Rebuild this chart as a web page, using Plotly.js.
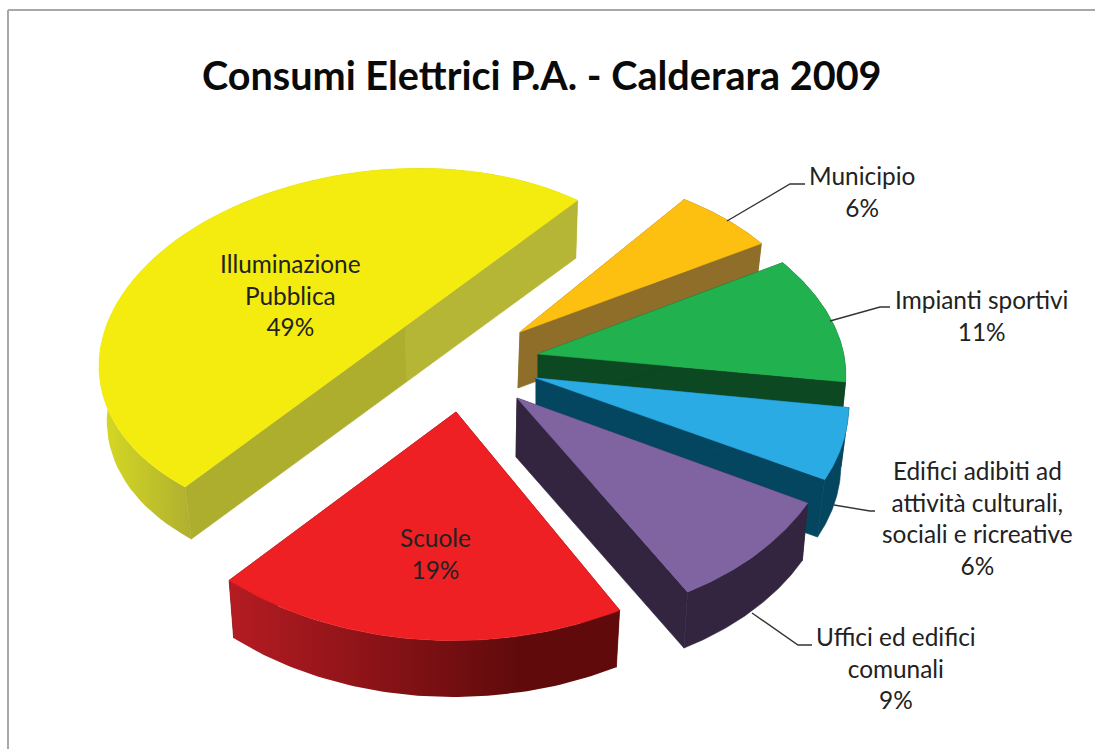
<!DOCTYPE html>
<html>
<head>
<meta charset="utf-8">
<script src="https://cdn.plot.ly/plotly-3.0.1.min.js"></script>
<style>html,body{margin:0;padding:0;background:#fff}#chart{width:1095px;height:749px}</style>
</head>
<body>
<div id="chart"></div>
<script>
// ---- data, counter-clockwise from the first slice ----
const categories = ["Illuminazione Pubblica", "Scuole", "Uffici ed edifici comunali",
  "Edifici adibiti ad attività culturali, sociali e ricreative", "Impianti sportivi", "Municipio"];
const values = [49, 19, 9, 6, 11, 6];
const labelLines = [
  ["Illuminazione", "Pubblica"], ["Scuole"], ["Uffici ed edifici", "comunali"],
  ["Edifici adibiti ad", "attività culturali,", "sociali e ricreative"], ["Impianti sportivi"], ["Municipio"]
];
const titleText = "Consumi Elettrici P.A. - Calderara 2009";

// ---- styling ----
const topColors   = ["#f4ec0e", "#ee2024", "#8064a2", "#2aabe4", "#22b14f", "#fdc010"];
const wallColors  = ["#b5b536", "#6a0c0c", "#332540", "#04465f", "#0c4822", "#8f6e2a"];
const wallColors2 = ["#aeae2e", "#6a0c0c", "#332540", "#04465f", "#0c4822", "#8f6e2a"];
const sideRamp    = [["#d4d822", "#b0b030"], ["#b41c22", "#600a0c"], null, null, null, null];
const rampRange   = [[105, 190], [230, 520], null, null, null, null];

// ---- projection of each exploded slice (Excel's 3D perspective) ----
const startAngle = 50;
// apex x, apex y, x=c*ux+s*vx, y=c*uy+s*vy
const frames = [
  [388, 347, 289,   5, -16, -178],
  [456, 412, 349, -19, -10, -223],
  [517, 398, 320, -40, -18, -222],
  [536, 378, 308, -55, -10, -203],
  [538, 354, 304, -48,  -7, -179],
  [520, 332, 290, -29, -13, -162]
];
// bottom face: shift x, shift y, shrink
const depths = [[2,55,.98],[0,61,.98],[-1,59,.985],[0,60,.975],[0,60,.98],[-2,56,.98]];
// extra swelling of the rim at mid-arc, caused by the perspective
const rimSwell = [0, .025, 0, 0, 0, 0];
// a near half-disc keeps a straight cut: pivot sits on the chord at this fraction
const chordPivot = [.44, null, null, null, null, null];
const paintOrder = [0, 5, 4, 3, 2, 1];

// ---- label placement ----
const labelPos = [[290,295],[435,553],[896,668],[977,518],[981,315],[862,191]];
const leaderX = [null, null, [752,798,812], [834,870,875], [830,880,890], [727,790,805]];
const leaderY = [null, null, [613,645,645], [505,511,511], [321,307,307], [221,184,184]];

const total = values.reduce((a,b)=>a+b,0);
let cum = 0;
const spans = values.map(v => { const s=[cum, cum+v]; cum+=v; return s.map(u=>startAngle+u/total*360); });

function point(i, deg, bottom, scale){
  const f=frames[i], d=depths[i], r=deg*Math.PI/180, c=Math.cos(r)*scale, s=Math.sin(r)*scale;
  const k=bottom?d[2]:1;
  return [f[0]+(bottom?d[0]:0)+k*(c*f[2]+s*f[3]), f[1]+(bottom?d[1]:0)+k*(c*f[4]+s*f[5])];
}
function arc(i,bottom){
  const out=[]; const [a,b]=spans[i];
  for(let n=0;n<=72;n++){
    const u=n/72; out.push(point(i,a+(b-a)*u,bottom,1+rimSwell[i]*Math.sin(Math.PI*u)));
  }
  return out;
}
function lerp(p,q,u){ return [p[0]+(q[0]-p[0])*u, p[1]+(q[1]-p[1])*u]; }
function poly(pts,color,name,grad){
  const closed=pts.concat([pts[0]]);
  const t={type:"scatter",mode:"lines",x:closed.map(p=>p[0]),y:closed.map(p=>p[1]),
    fill:"toself",line:{width:0.6,color:color},fillcolor:color,name:name,hoverinfo:"name",showlegend:false};
  if(grad){ t.fillgradient={type:"horizontal",start:grad.start,stop:grad.stop,
      colorscale:[[0,grad.from],[1,grad.to]]}; t.line={width:0}; delete t.fillcolor; }
  return t;
}
const traces=[];
paintOrder.forEach(i=>{
  const a=spans[i][0], top=arc(i,false), bot=arc(i,true);
  let A=point(i,a,false,0), B=point(i,a,true,0);
  if(chordPivot[i]!==null){ A=lerp(top[0],top[72],chordPivot[i]); B=lerp(bot[0],bot[72],chordPivot[i]); }
  const inner=[poly([A,top[0],bot[0],B],wallColors[i],categories[i]),
               poly([A,top[72],bot[72],B],wallColors2[i],categories[i])];
  // curved outer wall
  const wall=top.concat(bot.slice().reverse());
  const outer=sideRamp[i]
    ? poly(wall,wallColors[i],categories[i],{start:rampRange[i][0],stop:rampRange[i][1],from:sideRamp[i][0],to:sideRamp[i][1]})
    : poly(wall,wallColors[i],categories[i]);
  // a straight-cut slice shows its cut wall in front of the rim; others show the rim in front
  if(chordPivot[i]!==null){ traces.push(outer); traces.push(...inner); }
  else { traces.push(...inner); traces.push(outer); }
  // top face
  traces.push(poly([A].concat(top),topColors[i],categories[i]));
});
// leader lines
categories.forEach((c,i)=>{
  if(leaderX[i]) traces.push({type:"scatter",mode:"lines",x:leaderX[i],y:leaderY[i],
    line:{color:"#333333",width:1.4},hoverinfo:"skip",showlegend:false});
});

const annotations=categories.map((c,i)=>({
  xref:"x",yref:"y",x:labelPos[i][0],y:labelPos[i][1],xanchor:"center",yanchor:"middle",showarrow:false,
  align:"center",text:labelLines[i].concat([values[i]+"%"]).join("<br>"),
  font:{family:"Lato, 'Open Sans', sans-serif",size:24.4,color:"#222222"}
}));
annotations.push({xref:"x",yref:"y",x:542,y:74,xanchor:"center",yanchor:"middle",showarrow:false,
  text:"<b>"+titleText+"</b>",font:{family:"Lato, 'Open Sans', sans-serif",size:39.6,color:"#0a0a0a"}});

const layout={width:1095,height:749,margin:{l:0,r:0,t:0,b:0},paper_bgcolor:"#fff",plot_bgcolor:"#fff",
  xaxis:{range:[0,1095],visible:false,fixedrange:true},yaxis:{range:[749,0],visible:false,fixedrange:true},
  showlegend:false,annotations:annotations,
  shapes:[
    {type:"line",xref:"x",yref:"y",x0:8,x1:1095,y0:10,y1:10,line:{color:"#a8a8a8",width:2}},
    {type:"line",xref:"x",yref:"y",x0:8,x1:8,y0:10,y1:749,line:{color:"#a8a8a8",width:2}}
  ]};
Plotly.newPlot("chart",traces,layout,{displayModeBar:false,responsive:false});
</script>
</body>
</html>
